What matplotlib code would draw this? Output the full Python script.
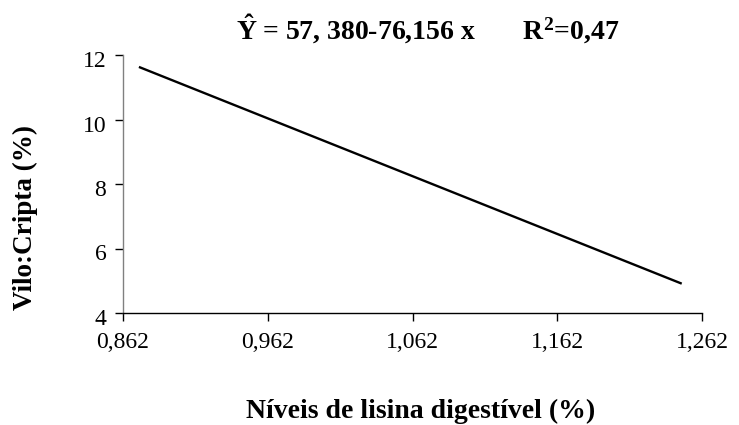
import matplotlib
matplotlib.use("Agg")
import matplotlib.pyplot as plt
import matplotlib.transforms as mtransforms

# Data (fitted line endpoints)
lisina = [0.873, 1.248]
vilo_cripta = [11.63, 4.91]

x_ticks = [0.862, 0.962, 1.062, 1.162, 1.262]
x_tick_labels = ["0,862", "0,962", "1,062", "1,162", "1,262"]
y_ticks = [4, 6, 8, 10, 12]
y_tick_labels = ["4", "6", "8", "10", "12"]

title_text = r"$\mathbf{\hat{Y}}$ = 57, 380-76,156 x       R$^{\mathbf{2}}$=0,47"

plt.rcParams["font.family"] = ["Liberation Serif", "DejaVu Serif"]
plt.rcParams["mathtext.fontset"] = "custom"
plt.rcParams["mathtext.rm"] = "Liberation Serif"
plt.rcParams["mathtext.bf"] = "Liberation Serif:bold"
plt.rcParams["mathtext.it"] = "Liberation Serif:italic"

fig = plt.figure(figsize=(7.39, 4.25), dpi=100)
ax = fig.add_axes([123 / 739, 1 - 313 / 425, (702 - 123) / 739, (313 - 55) / 425])

ax.plot(lisina, vilo_cripta, color="black", lw=1.7, solid_capstyle="butt")

ax.set_xlim(0.862, 1.262)
ax.set_ylim(4, 12)
ax.set_xticks(x_ticks)
ax.set_xticklabels(x_tick_labels)
ax.set_yticks(y_ticks)
ax.set_yticklabels(y_tick_labels)

ax.spines["top"].set_visible(False)
ax.spines["right"].set_visible(False)
ax.spines["left"].set_color("#808080")
ax.spines["bottom"].set_color("black")
ax.spines["left"].set_linewidth(1.0)
ax.spines["bottom"].set_linewidth(1.0)

ax.tick_params(axis="both", direction="out", length=6, width=1.0, color="black",
               labelsize=17, labelcolor="black")
ax.tick_params(axis="x", pad=8)
ax.tick_params(axis="y", pad=6)

# Excel-like slight downward offset of y tick labels
offset = mtransforms.ScaledTranslation(0, -4 / 100, fig.dpi_scale_trans)
for lab in ax.get_yticklabels():
    lab.set_transform(lab.get_transform() + offset)

fig.text(428 / 739, 1 - 29 / 425, title_text, ha="center", va="center",
         fontsize=20, fontweight="bold")
fig.text(421 / 739, 1 - 411 / 425, "Níveis de lisina digestível (%)", ha="center",
         va="center", fontsize=20, fontweight="bold")
fig.text(25 / 739, 1 - 217 / 425, "Vilo:Cripta (%)", ha="center", va="center",
         rotation=90, fontsize=19.5, fontweight="bold")

fig.savefig("out.png", dpi=100)
